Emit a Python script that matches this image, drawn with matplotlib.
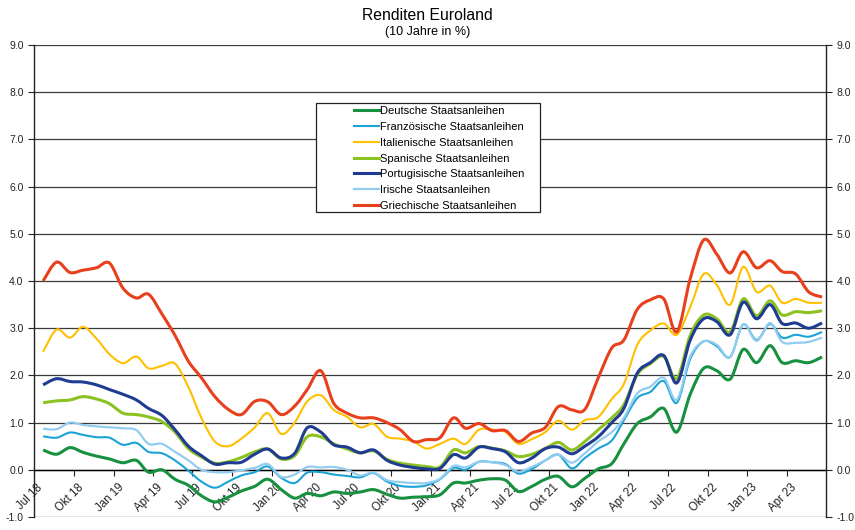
import numpy as np
import pandas as pd
import matplotlib
matplotlib.use("Agg")
import matplotlib.pyplot as plt
import matplotlib.dates as mdates
from matplotlib.patches import Rectangle, PathPatch
from matplotlib.path import Path
from matplotlib.lines import Line2D
from matplotlib.transforms import ScaledTranslation

plt.rcParams['font.family'] = ['Liberation Sans', 'DejaVu Sans']

# monthly observations, Jul 2018 - Jun 2023
dates = pd.date_range('2018-07-01', periods=60, freq='MS') + pd.Timedelta(days=21)

deutschland = [0.42, 0.33, 0.47, 0.37, 0.29, 0.23, 0.15, 0.20, -0.05, 0.00,
               -0.20, -0.33, -0.55, -0.68, -0.58, -0.45, -0.35, -0.20, -0.42, -0.60,
               -0.50, -0.55, -0.47, -0.50, -0.47, -0.42, -0.52, -0.60, -0.58, -0.57,
               -0.53, -0.28, -0.28, -0.22, -0.19, -0.22, -0.46, -0.35, -0.20, -0.14,
               -0.36, -0.18, 0.02, 0.13, 0.55, 0.98, 1.12, 1.30, 0.80, 1.60,
               2.15, 2.10, 1.92, 2.55, 2.27, 2.63, 2.27, 2.31, 2.27, 2.39]
frankreich = [0.71, 0.68, 0.79, 0.74, 0.69, 0.68, 0.53, 0.57, 0.38, 0.35,
              0.20, -0.02, -0.25, -0.38, -0.25, -0.12, -0.05, 0.07, -0.17, -0.28,
              -0.06, -0.05, -0.10, -0.13, -0.16, -0.07, -0.25, -0.34, -0.36, -0.33,
              -0.20, 0.04, 0.00, 0.17, 0.16, 0.12, -0.08, 0.02, 0.20, 0.32,
              0.03, 0.25, 0.45, 0.62, 1.05, 1.52, 1.65, 1.88, 1.42, 2.35,
              2.72, 2.62, 2.39, 3.08, 2.75, 3.09, 2.80, 2.86, 2.82, 2.92]
italien = [2.50, 2.97, 2.80, 3.03, 2.78, 2.45, 2.26, 2.40, 2.15, 2.20,
           2.25, 1.75, 1.10, 0.60, 0.50, 0.66, 0.90, 1.20, 0.76, 1.00,
           1.45, 1.58, 1.27, 1.12, 0.90, 0.97, 0.70, 0.66, 0.60, 0.45,
           0.55, 0.66, 0.55, 0.85, 0.85, 0.80, 0.55, 0.65, 0.80, 1.04,
           0.85, 1.05, 1.12, 1.50, 1.82, 2.65, 2.95, 3.10, 2.86, 3.45,
           4.15, 3.92, 3.50, 4.30, 3.77, 3.90, 3.54, 3.62, 3.54, 3.54]
spanien = [1.42, 1.46, 1.48, 1.55, 1.50, 1.40, 1.20, 1.17, 1.12, 1.02,
           0.80, 0.45, 0.27, 0.14, 0.17, 0.26, 0.38, 0.44, 0.23, 0.30,
           0.70, 0.70, 0.55, 0.44, 0.36, 0.40, 0.22, 0.14, 0.10, 0.07,
           0.06, 0.42, 0.36, 0.49, 0.46, 0.40, 0.28, 0.33, 0.45, 0.58,
           0.42, 0.60, 0.85, 1.10, 1.38, 2.02, 2.25, 2.40, 1.93, 2.85,
           3.28, 3.20, 2.92, 3.62, 3.26, 3.58, 3.28, 3.35, 3.33, 3.37]
portugal = [1.80, 1.93, 1.87, 1.86, 1.80, 1.70, 1.60, 1.48, 1.30, 1.15,
            0.85, 0.50, 0.30, 0.12, 0.15, 0.16, 0.33, 0.44, 0.25, 0.35,
            0.89, 0.80, 0.53, 0.48, 0.36, 0.42, 0.20, 0.10, 0.05, 0.02,
            0.03, 0.32, 0.25, 0.48, 0.45, 0.38, 0.15, 0.25, 0.45, 0.48,
            0.34, 0.50, 0.70, 1.00, 1.30, 2.05, 2.27, 2.42, 1.84, 2.75,
            3.20, 3.14, 2.86, 3.55, 3.20, 3.50, 3.10, 3.11, 3.00, 3.11]
irland = [0.87, 0.86, 1.00, 0.95, 0.92, 0.90, 0.88, 0.84, 0.55, 0.55,
          0.38, 0.20, 0.00, -0.05, -0.05, -0.01, 0.04, 0.12, -0.15, -0.10,
          0.06, 0.05, 0.06, 0.00, -0.12, -0.06, -0.22, -0.26, -0.28, -0.28,
          -0.19, 0.08, 0.05, 0.17, 0.16, 0.10, -0.04, 0.06, 0.20, 0.32,
          0.15, 0.35, 0.60, 0.80, 1.10, 1.62, 1.76, 1.95, 1.48, 2.40,
          2.72, 2.65, 2.39, 3.08, 2.73, 3.11, 2.71, 2.69, 2.71, 2.80]
griechenland = [4.00, 4.40, 4.18, 4.23, 4.28, 4.38, 3.85, 3.64, 3.72, 3.30,
                2.85, 2.30, 1.95, 1.55, 1.28, 1.17, 1.45, 1.44, 1.17, 1.35,
                1.70, 2.10, 1.41, 1.20, 1.10, 1.10, 1.00, 0.85, 0.60, 0.64,
                0.68, 1.10, 0.88, 0.98, 0.83, 0.83, 0.60, 0.78, 0.90, 1.34,
                1.27, 1.28, 1.95, 2.58, 2.75, 3.40, 3.60, 3.62, 2.92, 4.05,
                4.87, 4.57, 4.17, 4.62, 4.28, 4.43, 4.20, 4.15, 3.77, 3.66]

series = [
    ('Deutsche Staatsanleihen', deutschland, '#17913f', 2.2),
    ('Französische Staatsanleihen', frankreich, '#1ba3d6', 1.5),
    ('Italienische Staatsanleihen', italien, '#ffc000', 1.5),
    ('Spanische Staatsanleihen', spanien, '#8cc220', 2.2),
    ('Portugisische Staatsanleihen', portugal, '#1f3c92', 2.2),
    ('Irische Staatsanleihen', irland, '#92ccf0', 1.6),
    ('Griechische Staatsanleihen', griechenland, '#e8401c', 2.2),
]

tick_dates = pd.date_range('2018-07-01', '2023-04-01', freq='3MS')
tick_labels = ['Jul 18', 'Okt 18', 'Jan 19', 'Apr 19', 'Jul 19', 'Okt 19', 'Jan 20',
               'Apr 20', 'Jul 20', 'Okt 20', 'Jan 21', 'Apr 21', 'Jul 21', 'Okt 21',
               'Jan 22', 'Apr 22', 'Jul 22', 'Okt 22', 'Jan 23', 'Apr 23']


def smooth_path(x, y):
    # cubic bezier through every point (Excel-style smoothed line)
    x = np.asarray(x, float)
    y = np.asarray(y, float)
    px = np.concatenate([[x[0]], x, [x[-1]]])
    py = np.concatenate([[y[0]], y, [y[-1]]])
    verts = [(x[0], y[0])]
    codes = [Path.MOVETO]
    for i in range(1, len(x)):
        c1 = (px[i] + (px[i + 1] - px[i - 1]) / 6, py[i] + (py[i + 1] - py[i - 1]) / 6)
        c2 = (px[i + 1] - (px[i + 2] - px[i]) / 6, py[i + 1] - (py[i + 2] - py[i]) / 6)
        verts += [c1, c2, (x[i], y[i])]
        codes += [Path.CURVE4] * 3
    return Path(verts, codes)


fig = plt.figure(figsize=(8.55, 5.30), dpi=100)
ax = fig.add_axes([34 / 855, 1 - 517 / 530, 792 / 855, 472 / 530])

xnum = mdates.date2num(dates)
handles = []
for name, vals, col, lw in series:
    ax.add_patch(PathPatch(smooth_path(xnum, vals), facecolor='none', edgecolor=col,
                           lw=lw, joinstyle='round', capstyle='butt', zorder=3))
    handles.append(Line2D([], [], color=col, lw=lw, label=name))

ax.xaxis_date()
ax.set_xlim(pd.Timestamp('2018-07-01'), pd.Timestamp('2023-07-01'))
ax.set_ylim(-1, 9)
ax.set_yticks(np.arange(-1, 10, 1))
ax.yaxis.set_major_formatter(plt.FuncFormatter(lambda v, p: f'{v:.1f}'))
ax.grid(axis='y', color='#3a3a3a', lw=0.9, zorder=1)

ax.set_xticks(tick_dates)
ax.set_xticklabels(tick_labels)

ax.spines['top'].set_visible(False)
ax.spines['bottom'].set_position(('data', 0))
ax.spines['bottom'].set_color('black')
ax.spines['bottom'].set_linewidth(1.0)
ax.spines['bottom'].set_zorder(2)
for s in ('left', 'right'):
    ax.spines[s].set_color('#222222')
    ax.spines[s].set_linewidth(1.0)

ax.tick_params(axis='y', which='both', direction='out', length=4, labelsize=7.5,
               colors='#222222', left=True, right=True, labelleft=True, labelright=True)
ax.tick_params(axis='x', direction='out', length=4, labelsize=8.3, colors='#222222',
               pad=4.5, labelrotation=45)
shift = ScaledTranslation(-4 / 100, 0, fig.dpi_scale_trans)
for lbl in ax.get_xticklabels():
    lbl.set_ha('center')
    lbl.set_va('top')
    lbl.set_rotation_mode('default')
    lbl.set_transform(lbl.get_transform() + shift)

fig.text(0.5, 1 - 15 / 530, 'Renditen Euroland', ha='center', va='center', fontsize=11.3)
fig.text(0.5, 1 - 32 / 530, '(10 Jahre in %)', ha='center', va='center', fontsize=9)

# legend box with a wide left margin
ax.add_patch(Rectangle((316 / 855, 1 - 212 / 530), 224 / 855, 109 / 530,
                       transform=fig.transFigure, facecolor='white', edgecolor='#222222',
                       lw=0.9, clip_on=False, zorder=4))
leg = ax.legend(handles=handles, loc='upper left', bbox_to_anchor=(352 / 855, 1 - 104 / 530),
                bbox_transform=fig.transFigure, frameon=False, fontsize=8,
                handlelength=2.2, handletextpad=0.15, labelspacing=0.52,
                borderpad=0.2, borderaxespad=0)
leg.set_zorder(5)

fig.savefig('out.png', dpi=100)
